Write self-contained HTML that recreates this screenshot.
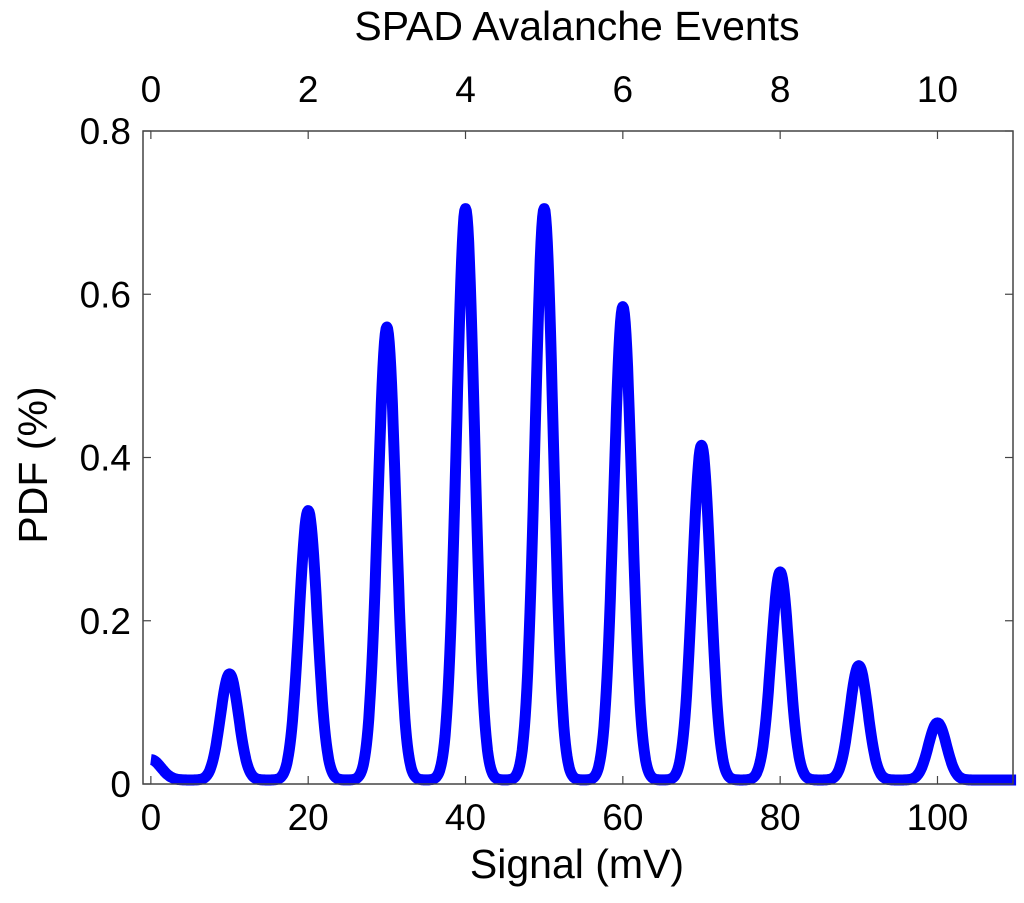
<!DOCTYPE html>
<html><head><meta charset="utf-8"><style>
body{margin:0;background:#fff;}
svg text{font-family:"Liberation Sans",Arial,sans-serif;fill:#000;}
</style></head><body>
<svg id="chart" width="1024" height="898" xmlns="http://www.w3.org/2000/svg">
<rect x="0" y="0" width="1024" height="898" fill="#fff"/>
<g id="ticks"></g>
<path id="curve" fill="none" stroke="#0000ff" stroke-width="11" stroke-linejoin="round"/>
<rect x="143" y="131" width="870" height="653" fill="none" stroke="#444" stroke-width="1.5"/>
<text x="577" y="40" font-size="41" text-anchor="middle">SPAD Avalanche Events</text>
<text x="577" y="878" font-size="41" text-anchor="middle">Signal (mV)</text>
<text transform="translate(47,465) rotate(-90)" font-size="41" text-anchor="middle">PDF (%)</text>
</svg>
<script>
const peakCenters=[0,10,20,30,40,50,60,70,80,90,100];
const peakHeights=[0.025,0.13,0.33,0.555,0.70,0.70,0.58,0.41,0.255,0.14,0.07];
const xTicks=[0,20,40,60,80,100];
const yTicks=[0,0.2,0.4,0.6,0.8];
const yTickLabels=["0","0.2","0.4","0.6","0.8"];
const topTicks=[0,2,4,6,8,10];
const L=143,R=1013,T=131,B=784,X0=-1.0,X1=109.6,Y0=0,Y1=0.8;
const sx=v=>L+(v-X0)/(X1-X0)*(R-L);
const sy=v=>B-(v-Y0)/(Y1-Y0)*(B-T);
const sxTop=e=>sx(e*10);
const NS="http://www.w3.org/2000/svg";
const g=document.getElementById('ticks');
function line(x1,y1,x2,y2,name){const l=document.createElementNS(NS,'line');l.setAttribute('x1',x1);l.setAttribute('y1',y1);l.setAttribute('x2',x2);l.setAttribute('y2',y2);l.setAttribute('stroke','#444');l.setAttribute('stroke-width','1.2');


g.appendChild(l);}
function text(x,y,s,anchor,name){const t=document.createElementNS(NS,'text');t.setAttribute('x',x);t.setAttribute('y',y);t.setAttribute('font-size','37');t.setAttribute('text-anchor',anchor);t.textContent=s;


document.getElementById('chart').appendChild(t);}
xTicks.forEach(v=>{const x=sx(v);line(x,B,x,B-8,'x-tick');text(x,830,String(v),'middle','x-tick-label');});
topTicks.forEach(v=>{const x=sxTop(v);line(x,T,x,T+8,'top-tick');text(x,102,String(v),'middle','top-tick-label');});
yTicks.forEach((v,i)=>{const y=sy(v);line(L,y,L+8,y,'y-tick');line(R,y,R-8,y,'y-tick-right');text(131,y+13,yTickLabels[i],'end','y-tick-label');});
const sig=1.15;
let d='';
for(let x=0;x<=110;x+=0.1){let y=0;peakCenters.forEach((c,i)=>{const s=i===0?1.3:sig;y+=peakHeights[i]*Math.exp(-0.5*((x-c)/s)**2);});
d+=(d?'L':'M')+sx(x).toFixed(1)+','+(sy(y)-4).toFixed(1);}
document.getElementById('curve').setAttribute('d',d);
</script>
</body></html>
